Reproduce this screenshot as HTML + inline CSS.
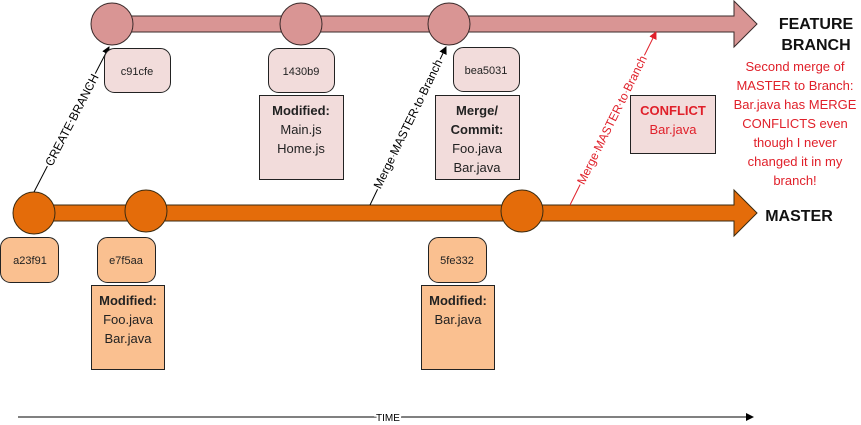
<!DOCTYPE html>
<html><head><meta charset="utf-8"><style>
html,body{margin:0;padding:0;background:#fff;}
svg{display:block;font-family:"Liberation Sans",sans-serif;}
.halo{paint-order:stroke;stroke:#fff;stroke-width:4px;}
</style></head><body>
<svg width="861" height="425" viewBox="0 0 861 425" xmlns="http://www.w3.org/2000/svg">
<defs>
<marker id="ab" markerWidth="8" markerHeight="8" refX="7" refY="4" orient="auto" markerUnits="userSpaceOnUse"><path d="M0,0 L8,4 L0,8z" fill="#000"/></marker>
<marker id="ar" markerWidth="8" markerHeight="8" refX="7" refY="4" orient="auto" markerUnits="userSpaceOnUse"><path d="M0,0 L8,4 L0,8z" fill="#e0202a"/></marker>
</defs>
<path d="M112,16 H734 V1 L757,24 L734,47 V32 H112 Z" fill="#d99594" stroke="#3a2a2a" stroke-width="1"/>
<path d="M34,205 H734 V190 L757,213 L734,236 V221 H34 Z" fill="#e46c0a" stroke="#3a2a10" stroke-width="1"/>
<g fill="#d99594" stroke="#3a2a2a" stroke-width="1">
<circle cx="112" cy="24" r="21"/><circle cx="301" cy="24" r="21"/><circle cx="449" cy="24" r="21"/>
</g>
<g fill="#e46c0a" stroke="#3a2a10" stroke-width="1">
<circle cx="34" cy="213" r="21"/><circle cx="146" cy="211" r="21"/><circle cx="522" cy="211" r="21"/>
</g>
<line x1="34" y1="192" x2="109" y2="47" stroke="#000" stroke-width="1" marker-end="url(#ab)"/>
<text class="halo" x="72" y="124" font-size="12" text-anchor="middle" transform="rotate(-62.5 72 120)">CREATE BRANCH</text>
<line x1="370" y1="205" x2="446" y2="47" stroke="#000" stroke-width="1" marker-end="url(#ab)"/>
<text class="halo" x="408" y="128" font-size="12" text-anchor="middle" transform="rotate(-64 408 124)">Merge MASTER to Branch</text>
<line x1="570" y1="205" x2="656" y2="32" stroke="#e0202a" stroke-width="1" marker-end="url(#ar)"/>
<text class="halo" x="612" y="124" font-size="12" fill="#e0202a" text-anchor="middle" transform="rotate(-63.6 612 120)">Merge MASTER to Branch</text>
<g fill="#f2dcdb" stroke="#222" stroke-width="1">
<rect x="104.5" y="48.5" width="66" height="44" rx="10"/>
<rect x="268.5" y="48.5" width="66" height="44" rx="10"/>
<rect x="453.5" y="47.5" width="66" height="44" rx="10"/>
<rect x="259.5" y="95.5" width="84" height="84"/>
<rect x="435.5" y="95.5" width="84" height="84"/>
<rect x="630.5" y="95.5" width="85" height="58"/>
</g>
<g font-size="11" text-anchor="middle" fill="#222">
<text x="137" y="75">c91cfe</text><text x="301" y="75">1430b9</text><text x="486" y="74">bea5031</text>
</g>
<g font-size="13" text-anchor="middle" fill="#222">
<text x="301" y="115" font-weight="bold">Modified:</text><text x="301" y="134">Main.js</text><text x="301" y="153">Home.js</text>
<text x="477" y="115" font-weight="bold">Merge/</text><text x="477" y="134" font-weight="bold">Commit:</text><text x="477" y="153">Foo.java</text><text x="477" y="172">Bar.java</text>
<text x="673" y="115" font-weight="bold" fill="#e0202a">CONFLICT</text><text x="673" y="134" fill="#e0202a">Bar.java</text>
</g>
<g fill="#fac090" stroke="#222" stroke-width="1">
<rect x="0.5" y="237.5" width="58" height="45" rx="10"/>
<rect x="97.5" y="237.5" width="58" height="45" rx="10"/>
<rect x="428.5" y="237.5" width="58" height="45" rx="10"/>
<rect x="91.5" y="285.5" width="73" height="84"/>
<rect x="421.5" y="285.5" width="73" height="84"/>
</g>
<g font-size="11" text-anchor="middle" fill="#222">
<text x="30" y="264">a23f91</text><text x="126" y="264">e7f5aa</text><text x="457" y="264">5fe332</text>
</g>
<g font-size="13" text-anchor="middle" fill="#222">
<text x="128" y="305" font-weight="bold">Modified:</text><text x="128" y="324">Foo.java</text><text x="128" y="343">Bar.java</text>
<text x="458" y="305" font-weight="bold">Modified:</text><text x="458" y="324">Bar.java</text>
</g>
<g font-size="16" font-weight="bold" text-anchor="middle" fill="#111">
<text x="816" y="29">FEATURE</text><text x="816" y="50">BRANCH</text>
<text x="799" y="221">MASTER</text>
</g>
<g font-size="13" text-anchor="middle" fill="#e0202a">
<text x="795" y="71">Second merge of</text>
<text x="795" y="90">MASTER to Branch:</text>
<text x="795" y="109">Bar.java has MERGE</text>
<text x="795" y="128">CONFLICTS even</text>
<text x="795" y="147">though I never</text>
<text x="795" y="166">changed it in my</text>
<text x="795" y="185">branch!</text>
</g>
<line x1="18" y1="417" x2="753" y2="417" stroke="#000" stroke-width="1" marker-end="url(#ab)"/>
<text class="halo" x="388" y="421" font-size="10" text-anchor="middle">TIME</text>
</svg>
</body></html>
